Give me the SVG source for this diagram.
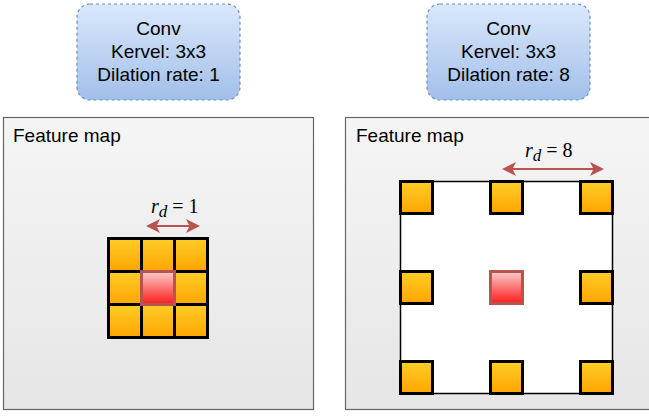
<svg xmlns="http://www.w3.org/2000/svg" width="649" height="416" viewBox="0 0 649 416">
  <defs>
    <linearGradient id="gBlue" x1="0" y1="0" x2="0" y2="1">
      <stop offset="0" stop-color="#dae8fc"/>
      <stop offset="1" stop-color="#a2bfe9"/>
    </linearGradient>
    <linearGradient id="gGray" x1="0" y1="0" x2="0" y2="1">
      <stop offset="0" stop-color="#f5f5f5"/>
      <stop offset="1" stop-color="#e6e6e6"/>
    </linearGradient>
    <linearGradient id="gOrange" x1="0" y1="0" x2="0" y2="1">
      <stop offset="0" stop-color="#ffcd28"/>
      <stop offset="1" stop-color="#ffa500"/>
    </linearGradient>
    <linearGradient id="gRed" x1="0" y1="0" x2="0" y2="1">
      <stop offset="0" stop-color="#f8cecc"/>
      <stop offset="1" stop-color="#ff1a1a"/>
    </linearGradient>
    <marker id="head" viewBox="0 0 14 14" refX="12" refY="7" markerWidth="14" markerHeight="14" markerUnits="userSpaceOnUse" orient="auto-start-reverse">
      <path d="M0,0 L14,7 L0,14 L3.5,7 Z" fill="#b85450"/>
    </marker>
  </defs>
  <style>
    .conv { fill: url(#gBlue); stroke: #6c8ebf; stroke-width: 1.2; stroke-dasharray: 3 3; }
    .map { fill: url(#gGray); stroke: #666666; stroke-width: 1.2; }
    .cell { fill: url(#gOrange); stroke: #000000; stroke-width: 3; }
    .center { fill: url(#gRed); stroke: #b85450; stroke-width: 3; }
    .label { font-family: "Liberation Sans", Arial, sans-serif; font-size: 19px; fill: #000000; }
    .math { font-family: "Liberation Serif", "Times New Roman", serif; font-size: 20px; fill: #000000; }
    .arrow { stroke: #b85450; stroke-width: 2; fill: none; marker-start: url(#head); marker-end: url(#head); }
  </style>

  <!-- Convolution descriptors -->
  <g id="conv-rate-1">
    <rect class="conv" x="77" y="4" width="163" height="96" rx="13" ry="13"/>
    <text class="label" x="158.5" y="35" text-anchor="middle">Conv</text>
    <text class="label" x="158.5" y="58" text-anchor="middle">Kervel: 3x3</text>
    <text class="label" x="158.5" y="81" text-anchor="middle">Dilation rate: 1</text>
  </g>
  <g id="conv-rate-8">
    <rect class="conv" x="427" y="4" width="163" height="96" rx="13" ry="13"/>
    <text class="label" x="508.5" y="35" text-anchor="middle">Conv</text>
    <text class="label" x="508.5" y="58" text-anchor="middle">Kervel: 3x3</text>
    <text class="label" x="508.5" y="81" text-anchor="middle">Dilation rate: 8</text>
  </g>

  <!-- Feature map, dilation 1 -->
  <g id="map-rate-1">
    <rect class="map" x="3.5" y="117.5" width="310" height="292"/>
    <text class="label" x="13" y="142">Feature map</text>
    <rect class="cell" x="108.5" y="238.5" width="33" height="33"/>
    <rect class="cell" x="141.5" y="238.5" width="33" height="33"/>
    <rect class="cell" x="174.5" y="238.5" width="33" height="33"/>
    <rect class="cell" x="108.5" y="271.5" width="33" height="33"/>
    <rect class="cell" x="174.5" y="271.5" width="33" height="33"/>
    <rect class="cell" x="108.5" y="304.5" width="33" height="33"/>
    <rect class="cell" x="141.5" y="304.5" width="33" height="33"/>
    <rect class="cell" x="174.5" y="304.5" width="33" height="33"/>
    <rect class="center" x="141.5" y="271.5" width="33" height="33"/>
    <text class="math" x="151" y="213"><tspan font-style="italic">r</tspan><tspan font-style="italic" font-size="17" dy="4">d</tspan><tspan dy="-4"> = 1</tspan></text>
  </g>

  <!-- Feature map, dilation 8 -->
  <g id="map-rate-8">
    <rect class="map" x="345.5" y="117.5" width="310" height="292"/>
    <text class="label" x="356" y="142">Feature map</text>
    <rect x="400.5" y="181.5" width="212" height="212" fill="#ffffff" stroke="#000000" stroke-width="1.5"/>
    <rect class="cell" x="400.5" y="181.5" width="32" height="32"/>
    <rect class="cell" x="490.5" y="181.5" width="32" height="32"/>
    <rect class="cell" x="580.5" y="181.5" width="32" height="32"/>
    <rect class="cell" x="400.5" y="271.5" width="32" height="32"/>
    <rect class="cell" x="580.5" y="271.5" width="32" height="32"/>
    <rect class="cell" x="400.5" y="361.5" width="32" height="32"/>
    <rect class="cell" x="490.5" y="361.5" width="32" height="32"/>
    <rect class="cell" x="580.5" y="361.5" width="32" height="32"/>
    <rect class="center" x="490.5" y="271.5" width="32" height="32"/>
    <text class="math" x="525" y="157"><tspan font-style="italic">r</tspan><tspan font-style="italic" font-size="17" dy="4">d</tspan><tspan dy="-4"> = 8</tspan></text>
  </g>

  <!-- Dilation spacing arrows -->
  <g id="connectors">
    <line class="arrow" x1="148" y1="226" x2="198" y2="226"/>
    <line class="arrow" x1="504" y1="169" x2="602" y2="169"/>
  </g>
</svg>
